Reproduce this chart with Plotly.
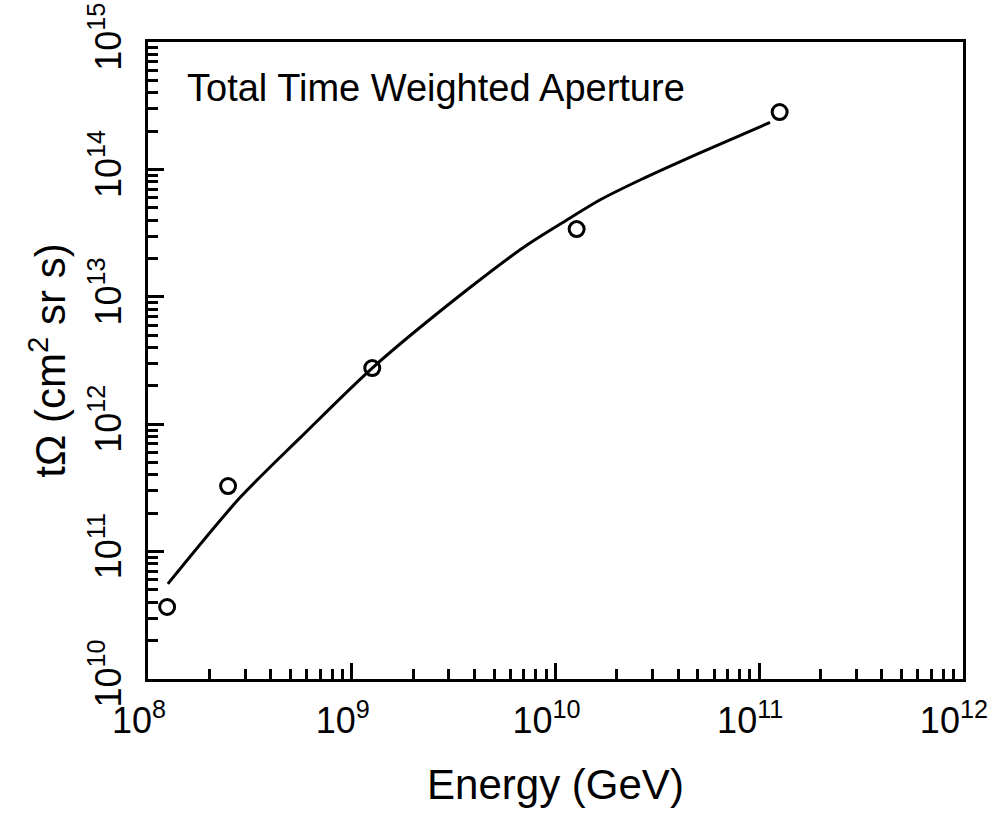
import numpy as np
import plotly.graph_objects as go

# Measured data points (energy in GeV, time-weighted aperture in cm^2 sr s)
energy_pts = [1.24e8, 2.47e8, 1.26e9, 1.27e10, 1.26e11]
aperture_pts = [3.67e10, 3.27e11, 2.76e12, 3.40e13, 2.82e14]

# Smooth curve
energy_curve = [1.25e8, 2.82e8, 5.57e8, 1.26e9, 3.67e9, 7.24e9, 1.18e10, 1.65e10, 2.60e10, 5.12e10, 1.13e11]
aperture_curve = [5.57e10, 2.64e11, 7.80e11, 2.76e12, 1.13e13, 2.55e13, 4.16e13, 5.75e13, 8.26e13, 1.35e14, 2.34e14]

x_decades = [8, 9, 10, 11, 12]
y_decades = [10, 11, 12, 13, 14, 15]

FONT = "Liberation Sans"

fig = go.Figure()
fig.add_trace(go.Scatter(
    x=energy_curve, y=aperture_curve, mode="lines",
    line=dict(color="black", width=3, shape="spline", smoothing=0.8),
    showlegend=False, hoverinfo="skip"))
fig.add_trace(go.Scatter(
    x=energy_pts, y=aperture_pts, mode="markers",
    marker=dict(symbol="circle-open", size=15, color="black", line=dict(width=3, color="black")),
    showlegend=False))

x_minor = [k * 10.0 ** d for d in x_decades[:-1] for k in range(2, 10)]
y_minor = [k * 10.0 ** d for d in y_decades[:-1] for k in range(2, 10)]

fig.update_xaxes(
    type="log", range=[x_decades[0] - 0.0005, x_decades[-1] + 0.0005],
    tickvals=[10.0 ** d for d in x_decades],
    ticktext=[f"10<sup>{d}</sup>" for d in x_decades],
    ticklabeloverflow="allow",
    ticklabelshift=-9,
    ticks="inside", ticklen=16, tickwidth=2.5, tickcolor="black",
    minor=dict(tickvals=x_minor, ticks="inside", ticklen=10, tickwidth=2.5, tickcolor="black"),
    showline=True, linewidth=3, linecolor="black", mirror=True,
    showgrid=False, zeroline=False,
    tickfont=dict(family=FONT, size=36, color="black"),
    ticklabelstandoff=8,
    title=dict(text="Energy (GeV)", font=dict(family=FONT, size=42, color="black"), standoff=30),
)
fig.update_yaxes(
    type="log", range=[y_decades[0] - 0.0005, y_decades[-1] + 0.0005],
    tickvals=[10.0 ** d for d in y_decades],
    ticktext=[f"10<sup>{d}</sup>" for d in y_decades],
    ticklabeloverflow="allow",
    tickangle=-90,
    ticks="inside", ticklen=16, tickwidth=2.5, tickcolor="black",
    minor=dict(tickvals=y_minor, ticks="inside", ticklen=10, tickwidth=2.5, tickcolor="black"),
    showline=True, linewidth=3, linecolor="black", mirror=True,
    showgrid=False, zeroline=False,
    tickfont=dict(family=FONT, size=36, color="black"),
    ticklabelstandoff=10,
    title=dict(text="tΩ (cm<sup>2</sup> sr s)", font=dict(family=FONT, size=42, color="black"), standoff=4),
)

fig.add_annotation(
    text="Total Time Weighted Aperture", xref="paper", yref="paper",
    x=0.045, y=0.928, xanchor="left", yanchor="middle", showarrow=False,
    font=dict(family=FONT, size=38, color="black"))

fig.update_layout(
    width=994, height=818,
    margin=dict(l=148, r=31, t=42, b=139, autoexpand=False),
    paper_bgcolor="white", plot_bgcolor="white",
)

fig.write_html("out.html")
